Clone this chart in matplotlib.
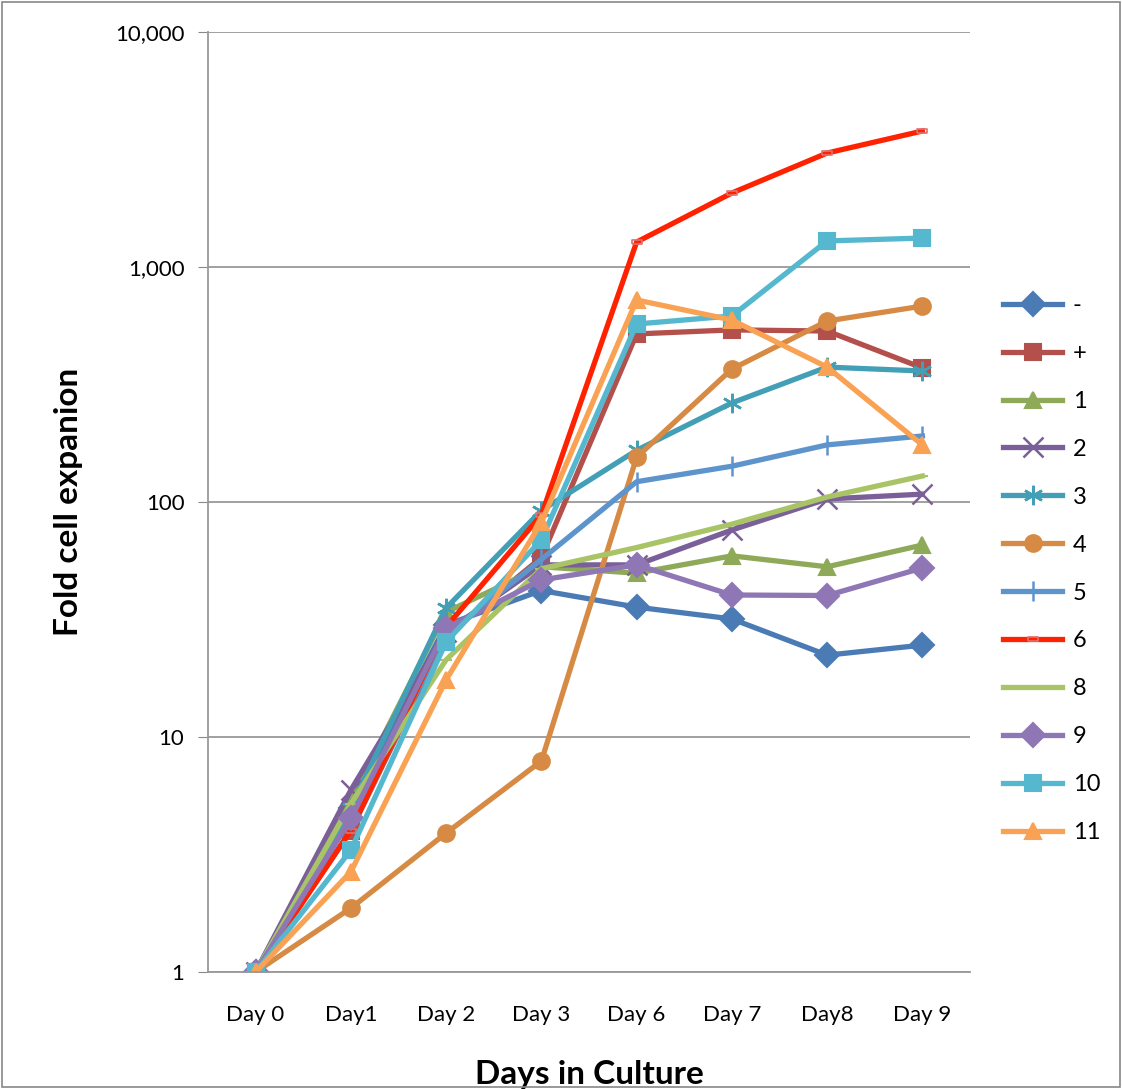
import matplotlib
matplotlib.use('Agg')
import matplotlib.pyplot as plt
from matplotlib.patches import Rectangle
from matplotlib.ticker import FixedLocator, FuncFormatter

plt.rcParams['font.family'] = ['Lato', 'DejaVu Sans']

# Days sampled
days = ['Day 0', 'Day1', 'Day 2', 'Day 3', 'Day 6', 'Day 7', 'Day8', 'Day 9']

# Fold expansion per condition
minus = [1, 5.0, 30, 42, 35.7, 31.8, 22.3, 24.6]
plus = [1, 4.0, 27, 58, 519, 540, 534, 372]
c1 = [1, 5.4, 34, 53, 49.8, 59, 53, 65.6]
c2 = [1, 5.95, 28, 54, 54, 76, 103, 108]
c3 = [1, 5.0, 35.4, 92, 166, 264, 375, 361]
c4 = [1, 1.87, 3.9, 7.9, 155, 368, 589, 682]
c5 = [1, 4.5, 27, 57, 122, 142, 175, 191]
c6 = [1, 4.0, 29.4, 88, 1277, 2065, 3055, 3790]
c8 = [1, 5.2, 21.3, 52, 64, 80.5, 105, 129]
c9 = [1, 4.5, 29, 46.6, 54, 40.2, 40, 52.4]
c10 = [1, 3.3, 25.4, 69, 572, 619, 1291, 1328]
c11 = [1, 2.67, 17.5, 82, 724, 595, 375, 175]

labels = ['-', '+', '1', '2', '3', '4', '5', '6', '8', '9', '10', '11']
series = [minus, plus, c1, c2, c3, c4, c5, c6, c8, c9, c10, c11]
colors = ['#4A7BB5', '#B3504C', '#8EA957', '#7B5F98', '#439FB6', '#D68A44',
          '#5E94CC', '#FF2200', '#A9C466', '#8F77B5', '#55B8CF', '#F9A254']
rect = [(-1, -0.5), (1, -0.5), (1, 0.5), (-1, 0.5), (-1, -0.5)]
markers = ['D', 's', '^', 'x', (6, 2, 0), 'o', '|', rect, '_', 'D', 's', '^']

fig = plt.figure(figsize=(11.22, 10.89), dpi=100)
ax = fig.add_axes([208 / 1122, 1 - 972 / 1089, 762 / 1122, 940 / 1089])

x = list(range(len(days)))
for lab, vals, col, mk in zip(labels, series, colors, markers):
    kw = dict(color=col, lw=3.8, marker=mk, markersize=12, label=lab,
              markerfacecolor=col, markeredgecolor=col, markeredgewidth=1.5)
    if lab == '6':
        kw.update(markersize=7, markerfacecolor='none', markeredgecolor='#E07070',
                  markeredgewidth=1.2)
    if lab == '8':
        kw.update(markersize=9)
    if lab in ('2', '3', '5'):
        kw.update(markeredgewidth=1.8, markersize=14)
    ax.plot(x, vals, **kw)

ax.set_yscale('log')
ax.set_ylim(1, 10000)
ax.set_xlim(-0.5, 7.5)
ax.yaxis.set_major_locator(FixedLocator([1, 10, 100, 1000, 10000]))
ax.yaxis.set_minor_locator(FixedLocator([]))
ax.yaxis.set_major_formatter(FuncFormatter(lambda v, p: f'{int(v):,}'))
ax.set_xticks(x)
ax.set_xticklabels(days)
ax.tick_params(axis='x', length=0, labelsize=16, pad=24)
ax.tick_params(axis='y', length=7, color='#888888', labelsize=16, pad=10)

ax.grid(axis='y', color='#999999', lw=1.3)
ax.set_axisbelow(True)
for s in ['top', 'right']:
    ax.spines[s].set_visible(False)
for s in ['left', 'bottom']:
    ax.spines[s].set_color('#999999')
    ax.spines[s].set_linewidth(1.3)

ax.set_ylabel('Fold cell expanion', fontsize=24, fontweight='bold', labelpad=23)
ax.set_xlabel('Days in Culture', fontsize=24, fontweight='bold', labelpad=25)

leg = fig.legend(loc='upper left', bbox_to_anchor=(1003 / 1122, 1 - 295 / 1089),
                 frameon=False, fontsize=17, labelspacing=1.14, handlelength=2.5,
                 handletextpad=0.45, borderpad=0, borderaxespad=0)

fig.patches.append(Rectangle((0.002, 0.002), 0.996, 0.996, transform=fig.transFigure,
                             fill=False, edgecolor='#888888', lw=1.2))

fig.savefig('out.png', dpi=100)
